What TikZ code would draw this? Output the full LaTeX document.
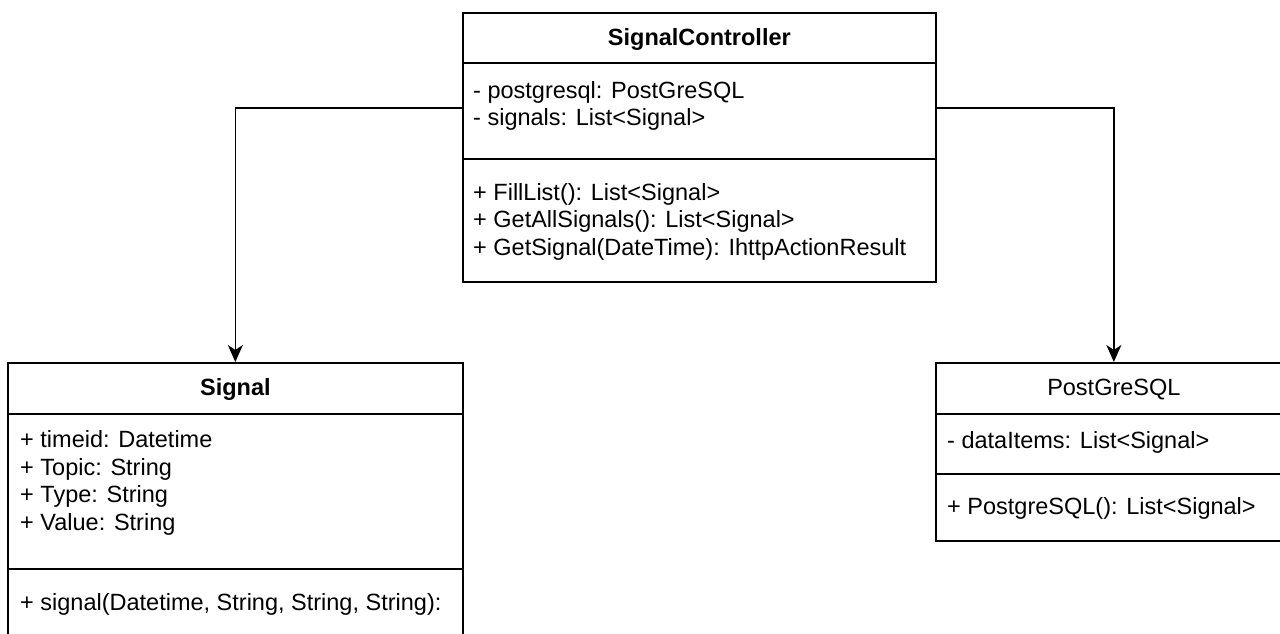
\documentclass[tikz,border=0pt]{standalone}
\usepackage{fontspec}
\setmainfont{Liberation Sans}
\usetikzlibrary{arrows.meta}
\begin{document}
\begin{tikzpicture}[x=1pt,y=-1pt,
  cbox/.style={draw=black, line width=1.7pt, rectangle, inner sep=0pt, anchor=north west},
  title/.style={font=\fontsize{23.5}{27.5}\selectfont\bfseries, inner sep=0pt},
  ptitle/.style={font=\fontsize{23.5}{27.5}\selectfont, inner sep=0pt},
  txt/.style={font=\fontsize{23.5}{27.5}\selectfont, align=left, anchor=west, inner sep=0pt},
  arr/.style={line width=1.7pt, -{Stealth[length=17pt,width=15pt,inset=5pt]}}]
\useasboundingbox (0,0) rectangle (1280,634);
\clip (0,0) rectangle (1280,634);
\fill[white] (0,0) rectangle (1280,634);

% SignalController
\node[cbox, minimum width=473pt, minimum height=50pt] (sct) at (462,12) {};
\node[cbox, minimum width=473pt, minimum height=96pt] (sca) at (462,62) {};
\node[cbox, minimum width=473pt, minimum height=123pt] (scm) at (462,158) {};
\node[title] (sctt) at ([yshift=-2pt]sct.center) {\strut SignalController};
\node[txt] (scat) at (473,106.5) {\strut- postgresql: PostGreSQL\\\strut- signals: List<Signal>};
\node[txt] (scmt) at (473,222) {\strut+ FillList(): List<Signal>\\\strut+ GetAllSignals(): List<Signal>\\\strut+ GetSignal(DateTime): IhttpActionResult};

% Signal
\node[cbox, minimum width=455pt, minimum height=51pt] (sgt) at (7,362) {};
\node[cbox, minimum width=455pt, minimum height=155pt] (sga) at (7,413) {};
\node[cbox, minimum width=455pt, minimum height=100pt] (sgm) at (7,568) {};
\node[title] (sgtt) at ([yshift=-2pt]sgt.center) {\strut Signal};
\node[txt] (sgat) at (20,483.5) {\strut+ timeid: Datetime\\\strut+ Topic: String\\\strut+ Type: String\\\strut+ Value: String};
\node[txt] (sgmt) at (20,605) {\strut+ signal(Datetime, String, String, String):};

% PostGreSQL
\node[cbox, minimum width=356pt, minimum height=51pt] (pgt) at (935,362) {};
\node[cbox, minimum width=356pt, minimum height=60pt] (pga) at (935,413) {};
\node[cbox, minimum width=356pt, minimum height=67pt] (pgm) at (935,473) {};
\node[ptitle] (pgtt) at ([yshift=-2pt]pgt.center) {\strut PostGreSQL};
\node[txt] (pgat) at (947,443) {\strut- dataItems: List<Signal>};
\node[txt] (pgmt) at (947,509) {\strut+ PostgreSQL(): List<Signal>};

% connectors
\draw[arr] ([yshift=3pt]sca.west) -| (sgt.north);
\draw[arr] ([yshift=3pt]sca.east) -| (pgt.north);
\end{tikzpicture}
\end{document}
